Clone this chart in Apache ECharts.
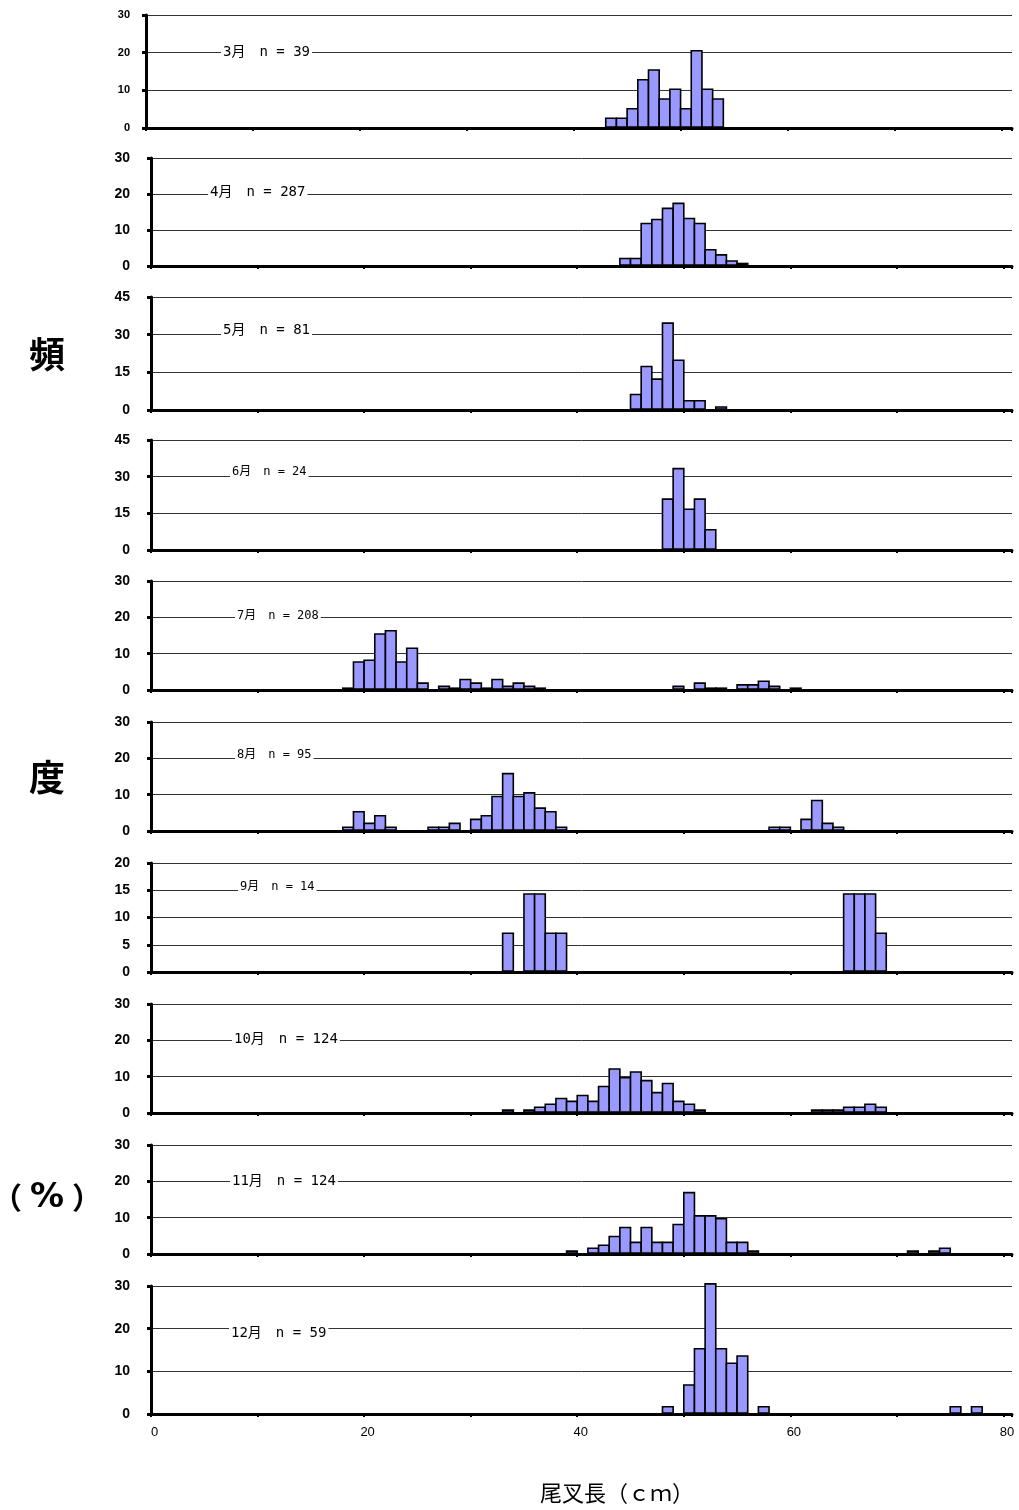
<!DOCTYPE html>
<html>
<head>
<meta charset="utf-8">
<script src="https://cdn.jsdelivr.net/npm/echarts@6/dist/echarts.min.js"></script>
<style>
html,body{margin:0;padding:0;background:#fff;}
#chart{width:1019px;height:1510px;}
</style>
</head>
<body>
<div id="chart"></div>
<script>
// ---- data: bin start (cm) and frequency (%) per month ----
const months = ["3月　n = 39","4月　n = 287","5月　n = 81","6月　n = 24","7月　n = 208","8月　n = 95","9月　n = 14","10月　n = 124","11月　n = 124","12月　n = 59"];

const marBins = [43,44,45,46,47,48,49,50,51,52,53];
const marPct  = [2.6,2.6,5.1,12.8,15.4,7.7,10.3,5.1,20.5,10.3,7.7];

const aprBins = [44,45,46,47,48,49,50,51,52,53,54,55];
const aprPct  = [2.1,2.1,11.8,12.9,16.0,17.4,13.2,11.8,4.5,3.1,1.4,0.7];

const mayBins = [45,46,47,48,49,50,51,53];
const mayPct  = [6.2,17.3,12.3,34.6,19.8,3.7,3.7,1.2];

const junBins = [48,49,50,51,52];
const junPct  = [20.8,33.3,16.7,20.8,8.3];

const julBins = [18,19,20,21,22,23,24,25,27,28,29,30,31,32,33,34,35,36,49,51,52,53,55,56,57,58,60];
const julPct  = [0.5,7.7,8.2,15.4,16.3,7.7,11.5,1.9,1.0,0.5,2.9,1.9,0.5,2.9,1.0,1.9,1.0,0.5,1.0,1.9,0.5,0.5,1.4,1.4,2.4,1.0,0.5];

const augBins = [18,19,20,21,22,26,27,28,30,31,32,33,34,35,36,37,38,58,59,61,62,63,64];
const augPct  = [1.05,5.3,2.1,4.2,1.05,1.05,1.05,2.1,3.2,4.2,9.5,15.8,9.5,10.5,6.3,5.3,1.05,1.05,1.05,3.2,8.4,2.1,1.05];

const sepBins = [33,35,36,37,38,65,66,67,68];
const sepPct  = [7.1,14.3,14.3,7.1,7.1,14.3,14.3,14.3,7.1];

const octBins = [33,35,36,37,38,39,40,41,42,43,44,45,46,47,48,49,50,51,62,63,64,65,66,67,68];
const octPct  = [0.8,0.8,1.6,2.4,4.0,3.2,4.8,3.2,7.3,12.1,9.7,11.3,8.9,5.6,8.1,3.2,2.4,0.8,0.8,0.8,0.8,1.6,1.6,2.4,1.6];

const novBins = [39,41,42,43,44,45,46,47,48,49,50,51,52,53,54,55,56,71,73,74];
const novPct  = [0.8,1.6,2.4,4.8,7.3,3.2,7.3,3.2,3.2,8.1,16.9,10.5,10.5,9.7,3.2,3.2,0.8,0.8,0.8,1.6];

const decBins = [48,50,51,52,53,54,55,57,75,77];
const decPct  = [1.7,6.8,15.3,30.5,15.3,11.9,13.6,1.7,1.7,1.7];

const yMax      = [30,30,45,45,30,30,20,30,30,30];
const yInterval = [10,10,15,15,10,10,5,10,10,10];
const xTickLabels = [0,20,40,60,80];

const binsAll = [marBins,aprBins,mayBins,junBins,julBins,augBins,sepBins,octBins,novBins,decBins];
const pctAll  = [marPct,aprPct,mayPct,junPct,julPct,augPct,sepPct,octPct,novPct,decPct];

// ---- layout ----
const panelTop    = [15,158,297,440,581,722,863,1004,1145,1286];
const panelBottom = [128,266,410,550,690,831,972,1113,1254,1414];
const labelPos = [[221,53,14],[208,193,14],[221,331,14],[230,473,12],[235,617,12],[235,756,12],[238,888,12],[232,1040,14],[230,1182,14],[229,1334,14]];

const chart = echarts.init(document.getElementById('chart'), null, {renderer:'canvas'});

const grids=[], xAxes=[], yAxes=[], series=[], graphics=[];
function renderItem(params, api){
  const x0 = api.value(0), v = api.value(1);
  const p0 = api.coord([x0, 0]);
  const p1 = api.coord([x0 + 1, v]);
  return {
    type:'rect',
    shape:{x:p0[0], y:p1[1], width:p1[0]-p0[0], height:p0[1]-p1[1]-1},
    style:{fill:'#9999ff', stroke:'#000', lineWidth:1.6}
  };
}
for(let i=0;i<10;i++){
  const first = i===0, last = i===9;
  const left = first ? 146 : 151;
  grids.push({left:left, right:7, top:panelTop[i], height:panelBottom[i]-panelTop[i]});
  xAxes.push({
    gridIndex:i, type:'value', min:0, max: first ? 81 : 80.8, interval:10,
    axisLine:{show:true, onZero:false, lineStyle:{color:'#000', width:3}},
    axisTick:{show:true, length:3, lineStyle:{color:'#000', width:2}},
    splitLine:{show:false},
    axisLabel:{show:last, color:'#000', fontSize:13, fontFamily:'Liberation Sans, Arial', margin:12,
      padding:[0,0,0,7],
      formatter:function(v){ return xTickLabels.indexOf(v) >= 0 ? String(v) : ''; }}
  });
  yAxes.push({
    gridIndex:i, type:'value', min:0, max:yMax[i], interval:yInterval[i],
    axisLine:{show:true, lineStyle:{color:'#000', width:3}},
    axisTick:{show:true, length:4, lineStyle:{color:'#000', width:3}},
    splitLine:{show:true, lineStyle:{color:'#333', width:1}},
    axisLabel:{color:'#000', fontSize: first ? 11 : 14, fontWeight: 'bold', fontFamily:'Liberation Sans, Arial', margin: first ? 16 : 21}
  });
  series.push({
    type:'custom', xAxisIndex:i, yAxisIndex:i,
    renderItem:renderItem,
    data: binsAll[i].map((b,k)=>[b, pctAll[i][k]]),
    z:3
  });
  graphics.push({
    type:'text', left:labelPos[i][0], top:labelPos[i][1]-labelPos[i][2]/2-2, z:10,
    style:{text:months[i], fill:'#000', font: labelPos[i][2]+'px "DejaVu Sans Mono", "Noto Sans CJK JP", monospace',
      backgroundColor:'#fff', padding:[1,2,1,2]}
  });
}
graphics.push({type:'text', left:29, top:336, style:{text:'頻', fill:'#000', font:'bold 36px "Noto Sans CJK JP"'}});
graphics.push({type:'text', left:29, top:759, style:{text:'度', fill:'#000', font:'bold 36px "Noto Sans CJK JP"'}});
graphics.push({type:'text', left:-8, top:1183, style:{text:'（', fill:'#000', font:'bold 30px "Noto Sans CJK JP"'}});
graphics.push({type:'text', left:30, top:1181, style:{text:'%', fill:'#000', font:'bold 34px "DejaVu Sans"'}});
graphics.push({type:'text', left:72, top:1183, style:{text:'）', fill:'#000', font:'bold 30px "Noto Sans CJK JP"'}});
graphics.push({type:'text', left:540, top:1482, style:{text:'尾叉長（ｃｍ）', fill:'#000', font:'22px "Noto Sans CJK JP"'}});

chart.setOption({
  animation:false,
  backgroundColor:'#fff',
  grid:grids, xAxis:xAxes, yAxis:yAxes, series:series, graphic:graphics
});
</script>
</body>
</html>
